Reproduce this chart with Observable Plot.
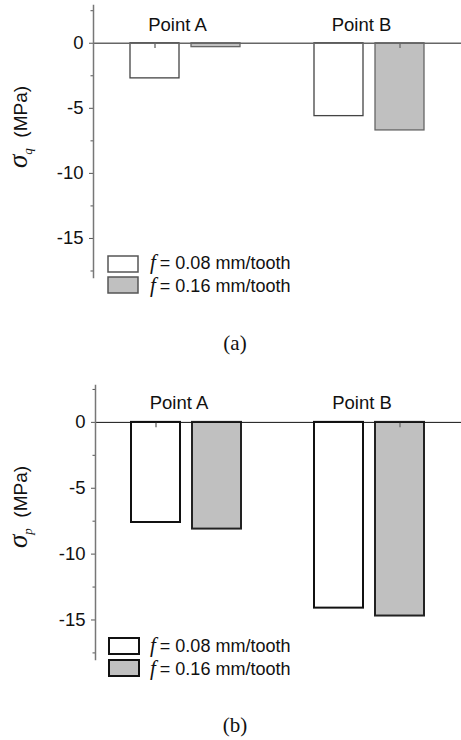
<!DOCTYPE html>
<html>
<head>
<meta charset="utf-8">
<script src="https://cdn.jsdelivr.net/npm/d3@7"></script>
<script src="https://cdn.jsdelivr.net/npm/@observablehq/plot@0.6"></script>
<style>
  html, body { margin: 0; padding: 0; background: #fff; }
  #root { position: relative; width: 461px; height: 740px; background: #fff; overflow: hidden; }
  .panel { position: absolute; left: 0; }
  #ov { position: absolute; left: 0; top: 0; pointer-events: none; }
</style>
</head>
<body>
<div id="root">
  <div id="pa" class="panel" style="top:0px"></div>
  <div id="pb" class="panel" style="top:370px"></div>
  <svg id="ov" width="461" height="740"></svg>
</div>
<script>
// ---------- data ----------
const groups = ["Point A", "Point B"];
const feeds = ["0.08", "0.16"];                 // f, mm/tooth
const sigmaQ = [-2.7, -0.3, -5.6, -6.7];       // A@0.08, A@0.16, B@0.08, B@0.16
const sigmaP = [-7.6, -8.1, -14.1, -14.7];
const errQ = [0.4, 0, 0, 0.4];
const errP = [0.4, 0, 0, 0.4];
const majorTicks = [0, -5, -10, -15];
const minorTicks = [2.5, -2.5, -7.5, -12.5, -17.5];
const panelTags = ["(a)", "(b)"];
const subs = ["q", "p"];

function rows(values, errs) {
  const out = [];
  let i = 0;
  for (const g of groups) for (const f of feeds) {
    out.push({group: g, feed: f, value: values[i], err: errs[i]});
    i++;
  }
  return out;
}

function panel(o) {
  const data = rows(o.values, o.errs);
  return Plot.plot({
    width: 461,
    height: 300,
    marginLeft: o.marginLeft,
    marginRight: 0,
    marginTop: o.marginTop,
    marginBottom: o.marginBottom,
    style: {fontFamily: "'Liberation Sans', Arial, sans-serif", fontSize: "18.5px", color: "#111", background: "transparent"},
    fx: {domain: groups, paddingInner: 0, paddingOuter: 0, axis: null, label: null},
    x: {domain: feeds, paddingInner: 0.19, paddingOuter: 0.585, axis: null},
    y: {domain: o.yDomain, label: null},
    color: {domain: feeds, range: ["#ffffff", "#c0c0c0"]},
    marks: [
      Plot.barY(data, {fx: "group", x: "feed", y: "value", fill: "feed",
        stroke: d => d.feed === feeds[0] ? o.barStroke[0] : o.barStroke[1],
        strokeWidth: o.barStrokeWidth}),
      Plot.ruleX(data.filter(d => d.err > 0), {fx: "group", x: "feed", y1: 0, y2: d => -d.err,
        stroke: "#777", strokeWidth: 1.5}),
      Plot.ruleY([0], {stroke: o.zeroStroke, strokeWidth: o.zeroWidth}),
      Plot.axisY({ticks: majorTicks, tickSize: 4, tickPadding: 6, tickFormat: d => String(d),
        stroke: "#555", fill: "#111", label: null}),
      Plot.axisY({ticks: minorTicks, tickSize: 2.5, tickFormat: () => "", stroke: "#555", label: null}),
      Plot.frame({anchor: "left", facetAnchor: "left", stroke: "#777", strokeWidth: 1.5}),
      Plot.text(groups, {fx: d => d, text: d => d, frameAnchor: "top", lineAnchor: "middle",
        dy: o.labelDy, dx: -8, fontSize: 18.5, fill: "#111"})
    ]
  });
}

document.getElementById("pa").append(panel({
  values: sigmaQ, errs: errQ, marginLeft: 92, marginTop: 5, marginBottom: 23,
  yDomain: [-18, 2.9], barStroke: ["#444", "#666"], barStrokeWidth: 1.3,
  zeroStroke: "#666", zeroWidth: 1.5, labelDy: 20
}));
document.getElementById("pb").append(panel({
  values: sigmaP, errs: errP, marginLeft: 94, marginTop: 15, marginBottom: 11,
  yDomain: [-18, 2.8], barStroke: ["#111", "#222"], barStrokeWidth: 2,
  zeroStroke: "#111", zeroWidth: 1, labelDy: 18
}));

// ---------- overlay: y labels, legends, captions ----------
const ov = d3.select("#ov");
const layouts = [
  {ylab: [21, 127], leg: [{box: [108, 256], base: 268.5}, {box: [108, 277], base: 291.5}],
   boxStroke: "#555", boxWidth: 1.5, tag: [235, 350]},
  {ylab: [21, 507], leg: [{box: [109, 638], base: 652}, {box: [109, 660], base: 675}],
   boxStroke: "#111", boxWidth: 2, tag: [235, 732]}
];
layouts.forEach((L, k) => {
  const t = ov.append("text")
    .attr("transform", `translate(${L.ylab[0]},${L.ylab[1]}) rotate(-90)`)
    .attr("text-anchor", "middle")
    .attr("dy", "0.35em")
    .attr("fill", "#111");
  t.append("tspan").attr("font-family", "'Liberation Serif', 'Times New Roman', serif")
    .attr("font-style", "italic").attr("font-size", 27).text("σ");
  t.append("tspan").attr("font-family", "'Liberation Serif', 'Times New Roman', serif")
    .attr("font-style", "italic").attr("font-size", 13).attr("dy", 5).text(subs[k]);
  t.append("tspan").attr("font-family", "'Liberation Sans', Arial, sans-serif")
    .attr("font-size", 19).attr("dy", -5).text("\u00a0\u00a0(MPa)");

  feeds.forEach((f, i) => {
    const r = L.leg[i];
    ov.append("rect").attr("x", r.box[0]).attr("y", r.box[1]).attr("width", 30).attr("height", 16)
      .attr("fill", i === 0 ? "#ffffff" : "#c0c0c0")
      .attr("stroke", L.boxStroke).attr("stroke-width", L.boxWidth);
    const tx = ov.append("text").attr("x", 150).attr("y", r.base).attr("fill", "#111");
    tx.append("tspan").attr("font-family", "'Liberation Serif', 'Times New Roman', serif")
      .attr("font-style", "italic").attr("font-size", 21).text("f");
    tx.append("tspan").attr("font-family", "'Liberation Sans', Arial, sans-serif")
      .attr("font-size", 18).attr("dx", 4).text(`= ${f} mm/tooth`);
  });

  ov.append("text").attr("x", L.tag[0]).attr("y", L.tag[1])
    .attr("text-anchor", "middle")
    .attr("font-family", "'Liberation Serif', 'Times New Roman', serif")
    .attr("font-size", 21).attr("fill", "#111").text(panelTags[k]);
});
</script>
</body>
</html>
